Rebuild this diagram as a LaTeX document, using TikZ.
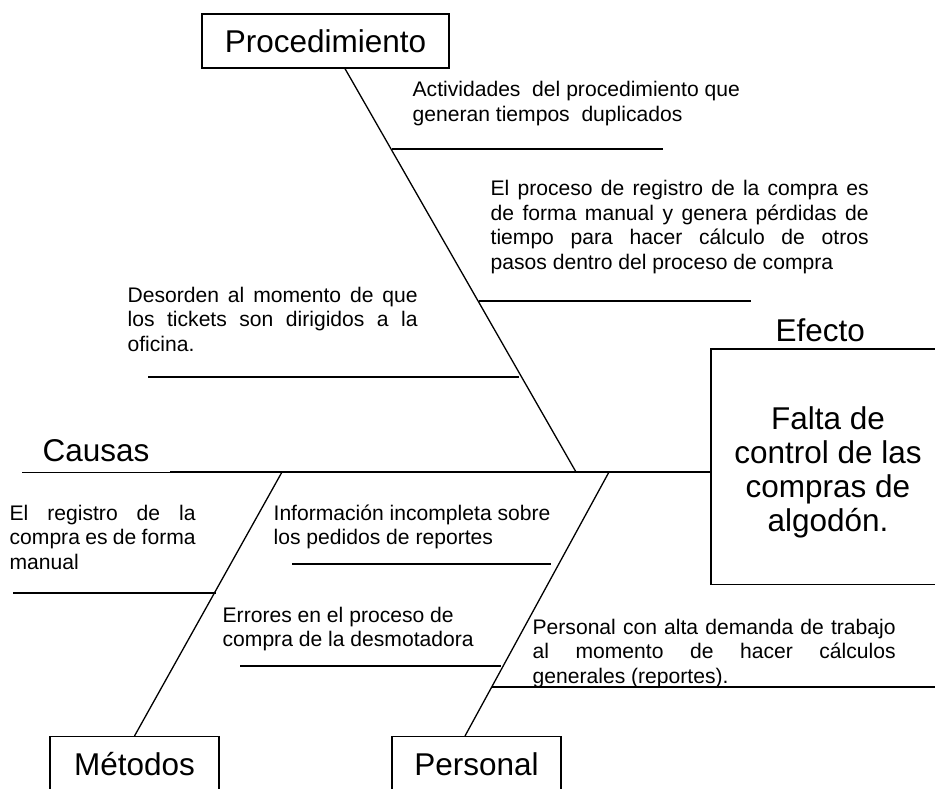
\documentclass[tikz,border=0pt]{standalone}
\usepackage{fontspec}
\setmainfont{Liberation Sans}
\usetikzlibrary{calc}
\newcommand{\smalltxt}{\fontsize{21.1}{24.5}\selectfont}
\newcommand{\bigtxt}{\fontsize{31.5}{34}\selectfont}
\begin{document}
\begin{tikzpicture}[x=1pt,y=-1pt, line width=1.3pt,
  bigbox/.style={draw, line width=1.3pt, font=\bigtxt, inner xsep=0pt},
  lbl/.style={inner sep=0pt, anchor=base west, font=\smalltxt},
  biglbl/.style={inner sep=0pt, font=\bigtxt},
  rib/.style={line width=1.3pt},
  bone/.style={line width=1.3pt}]
\useasboundingbox (0,0) rectangle (935,789);

% boxes
\node[bigbox, minimum width=247pt, minimum height=54pt] (proc) at (325.5,41) {Procedimiento};
\node[bigbox, anchor=north, minimum width=169pt, inner ysep=16pt, text height=23pt, text depth=30pt] (met) at (134.5,736) {Métodos};
\node[bigbox, anchor=north, minimum width=169pt, inner ysep=16pt, text height=23pt, text depth=30pt] (pers) at (476.5,736) {Personal};
\node[anchor=north west, minimum width=260pt, minimum height=234pt, inner sep=0pt] (efecto) at (711,349) {};
\draw[line width=1.3pt] (efecto.north east) -- (efecto.north west) -- (efecto.south west) -- (efecto.south east);
\node[biglbl, anchor=base] (efectotxt) at (828,429) {\parbox[t]{220pt}{\centering Falta de\\ control de las\\ compras de\\ algodón.}};
\node[biglbl, anchor=base west] (efl) at (775,341) {Efecto};
\node[biglbl, anchor=base west] (causas) at (42,461) {Causas};

% spine
\coordinate (cL) at (22,472);
\coordinate (spL) at (170,472);
\draw[line width=0.9pt] (cL) -- (spL);
\draw[bone] (spL) -- (efecto.west |- spL);

% bones
\coordinate (pJ) at (576,472);
\coordinate (mJ) at (282,472);
\coordinate (sJ) at (609,472);
\draw[bone] ([xshift=19.5pt]proc.south) -- (pJ);
\draw[bone] (met.north) -- (mJ);
\draw[bone] ([xshift=-11.5pt]pers.north) -- (sJ);

% ribs
\coordinate (a1) at (392,149); \coordinate (a2) at (663,149);
\coordinate (b1) at (479,301); \coordinate (b2) at (751,301);
\coordinate (c1) at (148,377); \coordinate (c2) at (519,377);
\coordinate (d1) at (13,593);  \coordinate (d2) at (216,593);
\coordinate (e1) at (292,564); \coordinate (e2) at (551,564);
\coordinate (f1) at (240,666); \coordinate (f2) at (501,666);
\coordinate (g1) at (492,687); \coordinate (g2) at (935,687);
\draw[rib] (a1) -- (a2);
\draw[rib] (b1) -- (b2);
\draw[rib] (c1) -- (c2);
\draw[rib] (d1) -- (d2);
\draw[rib] (e1) -- (e2);
\draw[rib] (f1) -- (f2);
\draw[rib] (g1) -- (g2);

% texts
\node[lbl] (ta) at (412,97) {\parbox[t]{340pt}{Actividades\ \ del procedimiento que\\ generan tiempos\ \ duplicados}};
\node[lbl] (tb) at (490,196) {\parbox[t]{378pt}{\makebox[378pt][s]{El proceso de registro de la compra es}\\ \makebox[378pt][s]{de forma manual y genera pérdidas de}\\ \makebox[378pt][s]{tiempo para hacer cálculo de otros}\\ pasos dentro del proceso de compra}};
\node[lbl] (tc) at (127,302) {\parbox[t]{290pt}{\makebox[290pt][s]{Desorden al momento de que}\\ \makebox[290pt][s]{los tickets son dirigidos a la}\\ oficina.}};
\node[lbl] (td) at (9,520) {\parbox[t]{186pt}{\makebox[186pt][s]{El registro de la}\\ \makebox[186pt][s]{compra es de forma}\\ manual}};
\node[lbl] (te) at (273,520) {\parbox[t]{300pt}{Información incompleta sobre\\ los pedidos de reportes}};
\node[lbl] (tf) at (222,622) {\parbox[t]{300pt}{Errores en el proceso de\\ compra de la desmotadora}};
\node[lbl] (tg) at (532,634) {\parbox[t]{363pt}{\makebox[363pt][s]{Personal con alta demanda de trabajo}\\ \makebox[363pt][s]{al momento de hacer cálculos}\\ generales (reportes).}};
\end{tikzpicture}
\end{document}
